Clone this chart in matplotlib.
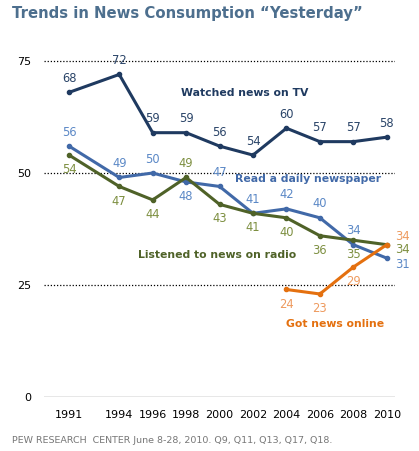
import numpy as np
import matplotlib
matplotlib.use("Agg")
import matplotlib.pyplot as plt

# survey years and share of adults (%) who got news "yesterday"
years = [1991, 1994, 1996, 1998, 2000, 2002, 2004, 2006, 2008, 2010]
tv = [68, 72, 59, 59, 56, 54, 60, 57, 57, 58]
newspaper = [56, 49, 50, 48, 47, 41, 42, 40, 34, 31]
radio = [54, 47, 44, 49, 43, 41, 40, 36, 35, 34]
online_years = [2004, 2006, 2008, 2010]
online = [24, 23, 29, 34]

# where each value label sits: a = above, b = below, r = right
tv_pos = ["a"] * 10
paper_pos = ["a", "a", "a", "b", "a", "a", "a", "a", "a", "rb"]
radio_pos = ["b", "b", "b", "a", "b", "b", "b", "b", "b", "rm"]
online_pos = ["b", "b", "b", "ra"]

offsets = {"a": (0, 10), "b": (0, -10.5), "rb": (11, -4.5), "rm": (11, -3.5), "ra": (11, 6)}

fig = plt.figure(figsize=(4.19, 4.51), dpi=100)
ax = fig.add_axes([0.105, 0.1197, 0.838, 0.7947])

series = [
    (years, tv, tv_pos, "#1f3a60", "#2a4468"),
    (years, newspaper, paper_pos, "#4169a8", "#5b88c6"),
    (years, radio, radio_pos, "#4f6228", "#7d8f40"),
    (online_years, online, online_pos, "#e4700f", "#ee9a5e"),
]

for xs, ys, pos, col, lcol in series:
    ax.plot(xs, ys, color=col, lw=2.2, marker="o", ms=3, zorder=3,
            solid_joinstyle="miter")
    for x, y, p in zip(xs, ys, pos):
        dx, dy = offsets[p]
        ax.annotate(str(y), (x, y), xytext=(dx, dy), textcoords="offset points",
                    ha="center", va="center", fontsize=8.3, color=lcol)

for g in [25, 50, 75]:
    ax.axhline(g, color="black", lw=0.9, ls=(0, (1, 1.5)), zorder=1)
ax.axhline(0, color="#888888", lw=1, zorder=1)

ax.set_xlim(1989.5, 2010.5)
ax.set_ylim(0, 80)
ax.set_xticks(years)
ax.set_xticklabels([str(y) for y in years], fontsize=8)
ax.set_yticks([0, 25, 50, 75])
ax.set_yticklabels(["0", "25", "50", "75"], fontsize=8)
ax.tick_params(length=0, pad=9)
ax.tick_params(axis="y", pad=9)
for s in ax.spines.values():
    s.set_visible(False)

ax.text(2001.5, 67.9, "Watched news on TV", color="#1f3a60", fontsize=7.8,
        fontweight="bold", ha="center", va="center")
ax.text(2005.3, 48.7, "Read a daily newspaper", color="#4169a8", fontsize=7.8,
        fontweight="bold", ha="center", va="center")
ax.text(1999.85, 31.7, "Listened to news on radio", color="#4f6228", fontsize=7.8,
        fontweight="bold", ha="center", va="center")
ax.text(2006.9, 16.3, "Got news online", color="#e4700f", fontsize=7.8,
        fontweight="bold", ha="center", va="center")

fig.text(0.028, 0.971, "Trends in News Consumption \u201cYesterday\u201d",
         fontsize=10.7, fontweight="bold", color="#4d6f8e", ha="left", va="center")
fig.text(0.028, 0.024, "PEW RESEARCH  CENTER June 8-28, 2010. Q9, Q11, Q13, Q17, Q18.",
         fontsize=6.8, color="#777777", ha="left", va="center")

fig.savefig("out.png", dpi=100)
